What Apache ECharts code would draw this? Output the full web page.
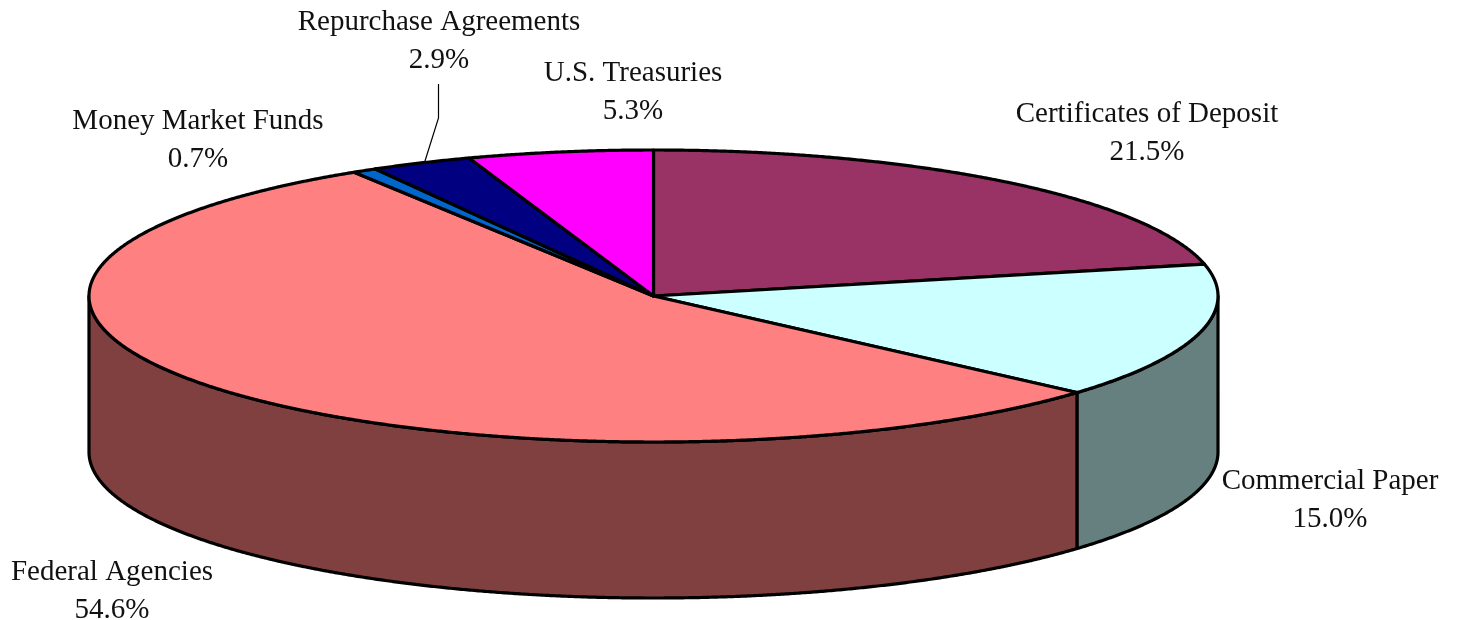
<!DOCTYPE html>
<html>
<head>
<meta charset="utf-8">
<style>
html, body { margin: 0; background: #fff; }
#chart { width: 1457px; height: 620px; }
</style>
</head>
<body>
<div id="chart"></div>
<script src="https://cdn.jsdelivr.net/npm/echarts@6/dist/echarts.min.js"></script>
<script>
const categories = ["Certificates of Deposit", "Commercial Paper", "Federal Agencies", "Money Market Funds", "Repurchase Agreements", "U.S. Treasuries"];
const shares = [21.5, 15.0, 54.6, 0.7, 2.9, 5.3];
const topColors = ["#993366", "#ccffff", "#ff8080", "#0066cc", "#000080", "#ff00ff"];
const sideColors = ["#4c1933", "#668080", "#804040", "#003366", "#000040", "#800080"];

// pie is drawn as a tilted disc, angle 0 = 12 o'clock, clockwise
const disc = { cx: 653.5, cy: 296, rx: 564.5, ry: 146, depth: 156 };
const labelAt = [[1147, 133], [1330, 500], [112, 591], [198, 140], [439, 41], [633, 92]];
const leader = [[438.5, 84], [438.5, 118], [425, 161]];

const total = shares.reduce((a, b) => a + b, 0);
const angleOf = pct => (pct / total) * Math.PI * 2;
const startAngles = shares.map((_, i) => angleOf(shares.slice(0, i).reduce((a, b) => a + b, 0)));

const rim = (angle, drop = 0) => [
	disc.cx + disc.rx * Math.sin(angle),
	disc.cy - disc.ry * Math.cos(angle) + drop
];

const arcPoints = (from, to, drop = 0) => {
	const steps = Math.max(2, Math.ceil((to - from) / 0.004));
	const pts = [];
	for (let s = 0; s <= steps; s++) pts.push(rim(from + ((to - from) * s) / steps, drop));
	return pts;
};

const outline = { stroke: "#000", lineWidth: 3.2, lineJoin: "round" };

const renderSide = (params, api) => {
	const i = api.value(0);
	const from = Math.max(startAngles[i], Math.PI / 2);
	const to = Math.min(startAngles[i] + angleOf(api.value(1)), Math.PI * 1.5);
	if (to <= from) return { type: "group", children: [] };
	const points = arcPoints(from, to).concat(arcPoints(from, to, disc.depth).reverse());
	return { type: "polygon", shape: { points }, style: { fill: sideColors[i], ...outline } };
};

const renderTop = (params, api) => {
	const i = api.value(0);
	const from = startAngles[i];
	const to = from + angleOf(api.value(1));
	const points = [[disc.cx, disc.cy]].concat(arcPoints(from, to));
	return { type: "polygon", shape: { points }, style: { fill: topColors[i], ...outline } };
};

const renderLabel = (params, api) => {
	const i = api.value(0);
	const children = [{
		type: "text",
		x: labelAt[i][0],
		y: labelAt[i][1],
		style: {
			text: categories[i] + "\n" + api.value(1).toFixed(1) + "%",
			fill: "#111",
			font: "29px 'Liberation Serif', serif",
			lineHeight: 38,
			align: "center",
			verticalAlign: "middle"
		}
	}];
	if (categories[i] === "Repurchase Agreements") {
		children.push({ type: "polyline", shape: { points: leader }, style: { fill: null, stroke: "#000", lineWidth: 1.2 } });
	}
	return { type: "group", children };
};

const rows = shares.map((v, i) => [i, v]);
const layer = (name, renderItem) => ({ name, type: "custom", coordinateSystem: "none", renderItem, data: rows, silent: true });

const chart = echarts.init(document.getElementById("chart"), null, { renderer: "canvas" });
chart.setOption({
	animation: false,
	backgroundColor: "#fff",
	series: [layer("sides", renderSide), layer("tops", renderTop), layer("labels", renderLabel)]
});
</script>
</body>
</html>
